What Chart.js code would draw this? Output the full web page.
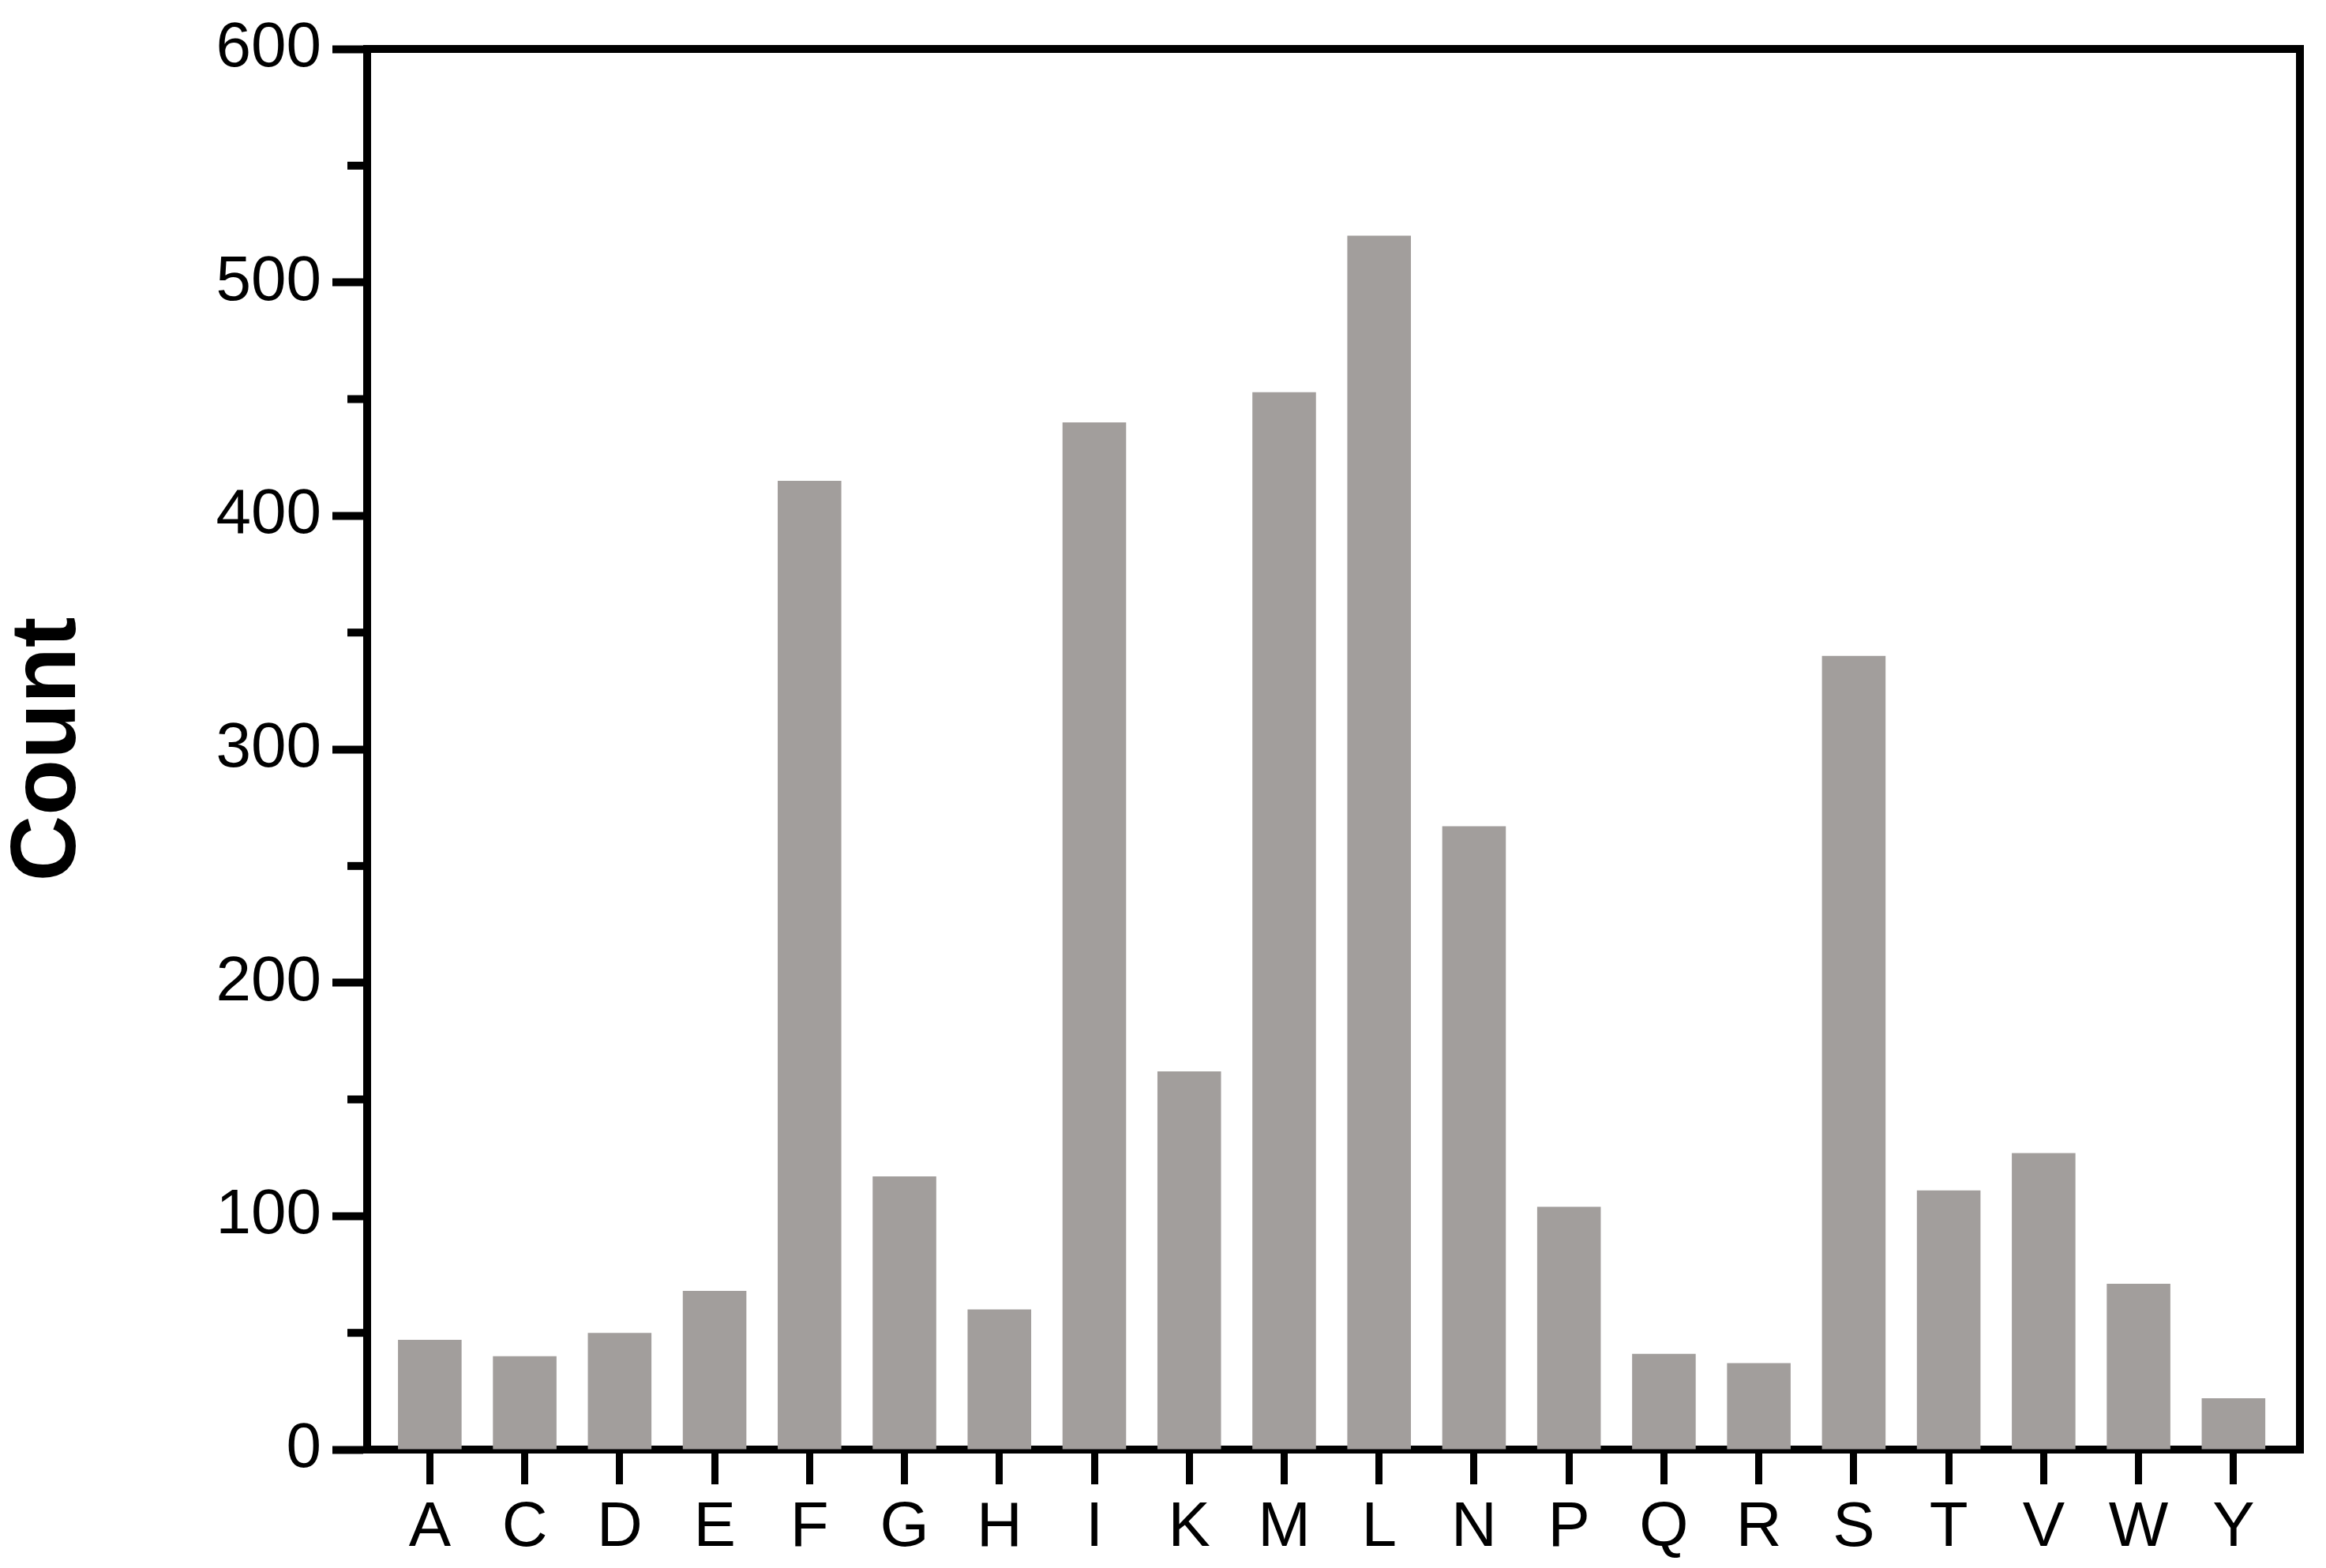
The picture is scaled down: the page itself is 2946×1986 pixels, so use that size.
<!DOCTYPE html>
<html>
<head>
<meta charset="utf-8">
<script src="https://cdn.jsdelivr.net/npm/chart.js@4/dist/chart.umd.min.js"></script>
<style>
  html, body { margin: 0; padding: 0; background: #fff; }
  #wrap { width: 2946px; height: 1986px; }
</style>
</head>
<body>
<div id="wrap"><canvas id="count_chart"></canvas></div>
<script>
// amino acid counts
const residues = ['A', 'C', 'D', 'E', 'F', 'G', 'H', 'I', 'K', 'M', 'L', 'N', 'P', 'Q', 'R', 'S', 'T', 'V', 'W', 'Y'];
const counts = [47, 40, 50, 68, 415, 117, 60, 440, 162, 453, 520, 267, 104, 41, 37, 340, 111, 127, 71, 22];
const yTicks = [0, 100, 200, 300, 400, 500, 600];
const yMinorTicks = [50, 150, 250, 350, 450, 550];

const FONT = '"Liberation Sans", Arial, Helvetica, sans-serif';

// box on top/right + minor ticks on the y axis
const framePlugin = {
  id: 'frame',
  afterDraw(chart) {
    const {ctx, chartArea: a} = chart;
    const y = chart.scales.y;
    ctx.save();
    ctx.strokeStyle = '#000';
    ctx.lineWidth = 10;
    ctx.lineCap = 'butt';
    ctx.lineJoin = 'miter';
    ctx.beginPath();
    ctx.moveTo(a.left, a.top);
    ctx.lineTo(a.right, a.top);
    ctx.lineTo(a.right, a.bottom + 5);
    ctx.stroke();
    yMinorTicks.forEach(v => {
      const py = y.getPixelForValue(v);
      ctx.beginPath();
      ctx.moveTo(a.left - 25, py);
      ctx.lineTo(a.left, py);
      ctx.stroke();
    });
    ctx.restore();
  }
};

Chart.defaults.color = '#000';
Chart.defaults.font.family = FONT;

const points = counts.map((v, i) => ({x: i, y: v}));

new Chart(document.getElementById('count_chart'), {
  type: 'bar',
  data: {
    datasets: [{
      data: points,
      backgroundColor: '#a29e9c',
      borderWidth: 0,
      categoryPercentage: 1,
      barPercentage: 0.67
    }]
  },
  options: {
    responsive: true,
    maintainAspectRatio: false,
    devicePixelRatio: 1,
    animation: false,
    layout: { padding: { top: 51, right: 33, left: 0, bottom: 0 } },
    plugins: {
      legend: { display: false },
      tooltip: { enabled: false }
    },
    scales: {
      x: {
        type: 'linear',
        position: 'bottom',
        offset: false,
        z: 1,
        min: -0.66,
        max: 19.7,
        afterBuildTicks: s => { s.ticks = residues.map((r, i) => ({value: i})); },
        afterFit: s => { s.height = 150; },
        grid: { display: true, offset: false, drawOnChartArea: false, drawTicks: true, tickLength: 44, tickWidth: 9, tickColor: '#000' },
        border: { display: true, width: 10, color: '#000' },
        ticks: {
          autoSkip: false,
          maxRotation: 0,
          padding: 8,
          font: { size: 80, family: FONT },
          callback: v => residues[v]
        }
      },
      y: {
        min: 0,
        max: 600,
        z: 1,
        afterBuildTicks: s => { s.ticks = yTicks.map(v => ({value: v})); },
        afterFit: s => { s.width = 465; },
        grid: { display: true, drawOnChartArea: false, drawTicks: true, tickLength: 44, tickWidth: 10, tickColor: '#000' },
        border: { display: true, width: 10, color: '#000' },
        ticks: {
          padding: 14,
          font: { size: 80, family: FONT }
        },
        title: {
          display: true,
          text: 'Count',
          padding: { top: 5, bottom: 0 },
          font: { size: 116, weight: 'bold', family: FONT, lineHeight: 1 }
        }
      }
    }
  },
  plugins: [framePlugin]
});
</script>
</body>
</html>
